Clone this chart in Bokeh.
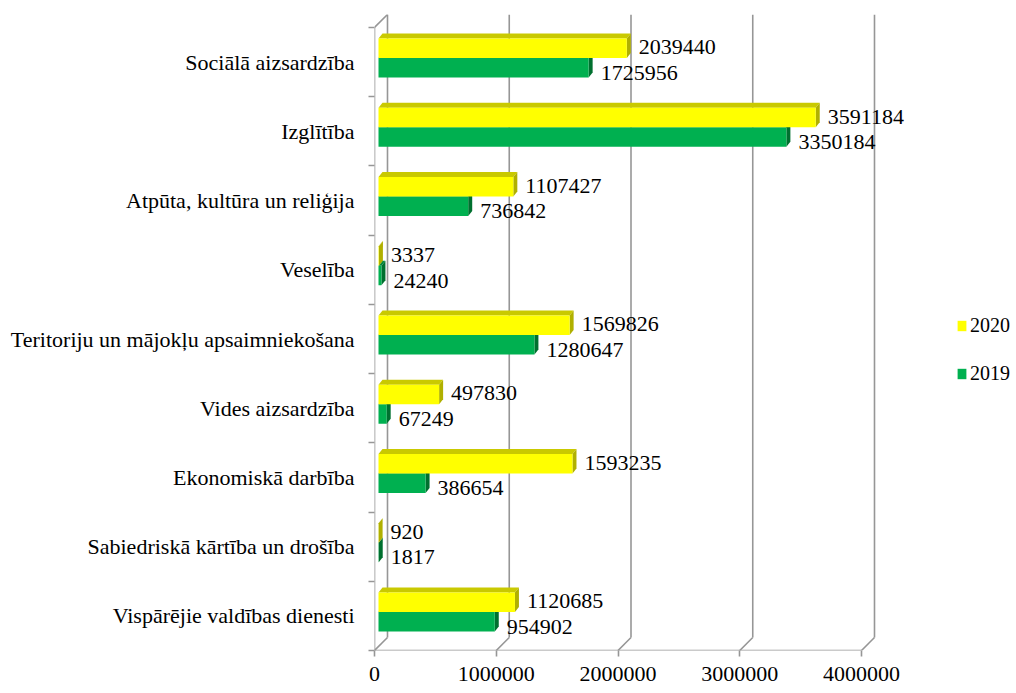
from bokeh.plotting import figure
from bokeh.models import (ColumnDataSource, Range1d, LinearAxis, FixedTicker,
                          BasicTickFormatter, Legend, LegendItem)
from bokeh.core.properties import value
from bokeh.embed import file_html
from bokeh.resources import INLINE

# ---------------- data ----------------
categories = ["Sociālā aizsardzība", "Izglītība", "Atpūta, kultūra un reliģija", "Veselība",
              "Teritoriju un mājokļu apsaimniekošana", "Vides aizsardzība", "Ekonomiskā darbība",
              "Sabiedriskā kārtība un drošība", "Vispārējie valdības dienesti"]
values_2020 = [2039440, 3591184, 1107427, 3337, 1569826, 497830, 1593235, 920, 1120685]
values_2019 = [1725956, 3350184, 736842, 24240, 1280647, 67249, 386654, 1817, 954902]
x_ticks = [0, 1000000, 2000000, 3000000, 4000000]
series_labels = ["2020", "2019"]

# ---------------- style / geometry (pixels) ----------------
FONT = value("Liberation Serif")
W, H = 1012, 692
B_LEFT, B_TOP = 374, 14
B_BOTTOM = H - 650
FRAME_W = W - B_LEFT
FRAME_H = H - B_TOP - B_BOTTOM
N = len(categories)
WALL_D = 13                      # depth of the 3D box (px, both x and y)
BAND_PX = (FRAME_H - WALL_D) / N
PX_Y = 1.0 / BAND_PX             # category units per pixel
PX_X = 1e6 / 121.75              # value units per pixel
FRONT = 4                        # front plane sits 4px left of the bar plane
BACK = 9                         # back wall sits 9px right of the bar plane
BAR_LIFT = 4                     # bars are drawn 4px higher than front-plane centres
BAR_H = 19.5                     # bar thickness (px)
DEP_X, DEP_Y = 4, 5              # bar depth faces (px)

COL = {
    "2020": ("#FFFF00", "#C9C900", "#B0B000"),
    "2019": ("#00B050", "#00893F", "#00702F"),
}
GRID = "#969696"

x_start = -FRONT * PX_X
x_end = x_start + FRAME_W * PX_X
y_bottom = float(N)
y_top = -WALL_D * PX_Y

p = figure(width=W, height=H, output_backend="svg", toolbar_location=None,
           x_range=Range1d(x_start, x_end), y_range=Range1d(y_bottom, y_top),
           x_axis_location=None, y_axis_location=None,
           min_border_left=B_LEFT, min_border_right=0,
           min_border_top=B_TOP, min_border_bottom=B_BOTTOM)
p.outline_line_color = None
p.grid.visible = False
p.background_fill_color = "white"

p.extra_x_ranges = {"front": Range1d(x_start + FRONT * PX_X, x_end + FRONT * PX_X)}
p.extra_y_ranges = {"bar": Range1d(y_bottom + BAR_LIFT * PX_Y, y_top + BAR_LIFT * PX_Y)}

# ---------------- 3D box: walls, floor, grid ----------------
fx = -FRONT * PX_X
bx = BACK * PX_X
floor_back = y_bottom - WALL_D * PX_Y
p.segment(x0=[t + bx for t in x_ticks], y0=[floor_back] * len(x_ticks),
          x1=[t + bx for t in x_ticks], y1=[y_top] * len(x_ticks),
          line_color=GRID, line_width=1.6)
p.segment(x0=[t + fx for t in x_ticks], y0=[y_bottom] * len(x_ticks),
          x1=[t + bx for t in x_ticks], y1=[floor_back] * len(x_ticks),
          line_color=GRID, line_width=1.6)
p.segment(x0=[fx, fx, fx], y0=[y_bottom, 0, 0],
          x1=[x_ticks[-1] + fx, fx, bx], y1=[y_bottom, y_bottom, y_top],
          line_color=GRID, line_width=1.6)

# ---------------- bars ----------------
idx = list(range(N))
half = BAR_H / 2 * PX_Y
dxv, dyv = DEP_X * PX_X, DEP_Y * PX_Y
renderers = {}
for name, vals, sgn in (("2019", values_2019, +1), ("2020", values_2020, -1)):
    front_c, top_c, side_c = COL[name]
    yc = [i + 0.5 + sgn * half for i in idx]
    yt = [y - half for y in yc]
    yb = [y + half for y in yc]
    top_xs = [[0, dxv, v + dxv, v] for v in vals]
    top_ys = [[a, a - dyv, a - dyv, a] for a in yt]
    side_xs = [[v, v + dxv, v + dxv, v] for v in vals]
    side_ys = [[a, a - dyv, b - dyv, b] for a, b in zip(yt, yb)]
    p.patches(xs=top_xs, ys=top_ys, fill_color=top_c, line_color=None, y_range_name="bar")
    p.patches(xs=side_xs, ys=side_ys, fill_color=side_c, line_color=None, y_range_name="bar")
    src = ColumnDataSource(dict(y=yc, right=vals, label=[str(v) for v in vals],
                                ly=[y + (5 if sgn > 0 else -1) * PX_Y for y in yc]))
    r = p.hbar(y="y", left=0, right="right", height=BAR_H * PX_Y, source=src,
               fill_color=front_c, line_color=None, y_range_name="bar")
    renderers[name] = r
    p.text(x="right", y="ly", text="label", source=src, x_offset=DEP_X + 8,
           text_font=FONT, text_font_size="22px", text_color="black",
           text_align="left", text_baseline="middle", y_range_name="bar")

# ---------------- axes ----------------
yaxis = LinearAxis(ticker=FixedTicker(ticks=[i + 0.5 for i in idx],
                                      minor_ticks=[float(i) for i in range(N + 1)]))
yaxis.major_label_overrides = {i + 0.5: c for i, c in zip(idx, categories)}
yaxis.axis_line_color = None
yaxis.major_tick_line_color = None
yaxis.major_tick_out = 5
yaxis.major_tick_in = 0
yaxis.minor_tick_out = 6
yaxis.minor_tick_in = 0
yaxis.minor_tick_line_color = GRID
yaxis.minor_tick_line_width = 1.6
yaxis.major_label_standoff = 14
yaxis.major_label_text_font = "Liberation Serif"
yaxis.major_label_text_font_size = "22px"
yaxis.major_label_text_color = "black"
p.add_layout(yaxis, "left")

xaxis = LinearAxis(x_range_name="front", ticker=FixedTicker(ticks=x_ticks),
                   formatter=BasicTickFormatter(use_scientific=False))
xaxis.axis_line_color = None
xaxis.major_tick_line_color = GRID
xaxis.major_tick_line_width = 1.6
xaxis.major_tick_out = 6
xaxis.major_tick_in = 0
xaxis.minor_tick_line_color = None
xaxis.major_label_standoff = 10
xaxis.major_label_text_font = "Liberation Serif"
xaxis.major_label_text_font_size = "22px"
xaxis.major_label_text_color = "black"
p.add_layout(xaxis, "below")

# ---------------- legend ----------------
legend = Legend(items=[LegendItem(label=series_labels[0], renderers=[renderers["2020"]]),
                       LegendItem(label=series_labels[1], renderers=[renderers["2019"]])],
                location=(582, 265), padding=0, margin=0, spacing=25,
                glyph_width=11, glyph_height=13, label_height=21, label_standoff=3,
                label_text_font="Liberation Serif", label_text_font_size="20px",
                label_text_color="black", border_line_color=None,
                background_fill_alpha=0)
p.add_layout(legend)

open("out.html", "w").write(file_html(p, INLINE))
